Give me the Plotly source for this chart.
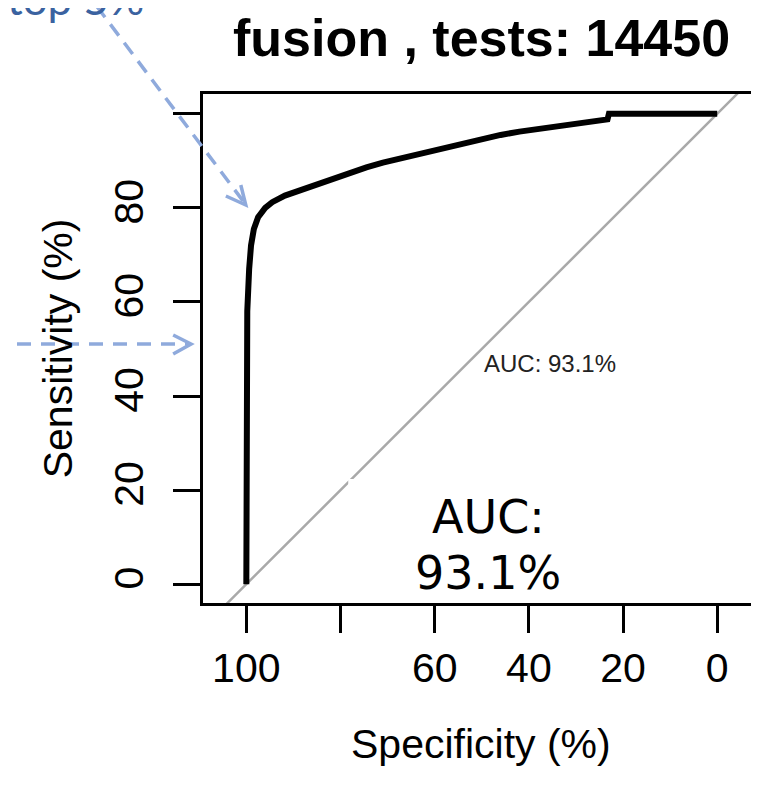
import plotly.graph_objects as go

# ---- data ----
specificity = [100, 99.9, 99.8, 99.4, 99.0, 98.4, 97.5, 96.0, 94.5, 91.8, 88.5, 85.0, 81.0,
               77.5, 74.5, 71.0, 68.0, 64.5, 61.5, 57.5, 53.5, 50.0, 46.0, 42.0, 38.0,
               34.0, 30.0, 26.5, 23.3, 23.0, 0]
sensitivity = [0, 40, 58, 67, 72, 75.5, 78, 80, 81.2, 82.6, 83.8, 85.0, 86.3,
               87.6, 88.6, 89.6, 90.3, 91.2, 92.0, 92.9, 93.8, 94.6, 95.5, 96.2, 96.8,
               97.4, 98.0, 98.4, 98.8, 100, 100]
chance_spec = [110, -10]
chance_sens = [-10, 110]
x_ticks = [100, 80, 60, 40, 20, 0]
x_ticklabels = ["100", "", "60", "40", "20", "0"]
y_ticks = [0, 20, 40, 60, 80, 100]
y_ticklabels = ["0", "20", "40", "60", "80", ""]
title_text = "fusion , tests: 14450"
auc_text = "AUC: 93.1%"

W, H = 759, 788
L, R, T, B = 195, 754, 86, 595


def px(x):
    return (x - L) / (R - L)


def py(y):
    return (B - y) / (B - T)


fig = go.Figure()
fig.add_trace(go.Scatter(x=chance_spec, y=chance_sens, mode="lines",
                         line=dict(color="#A9A9A9", width=2.5), hoverinfo="skip"))
fig.add_trace(go.Scatter(x=specificity, y=sensitivity, mode="lines",
                         line=dict(color="black", width=6), hoverinfo="skip"))

axis_font = dict(family="Liberation Sans, Arial, sans-serif", size=41, color="black")
fig.update_xaxes(range=[109.2, -8.87], tickmode="array", tickvals=x_ticks, ticktext=x_ticklabels,
                 ticks="outside", ticklen=27, tickwidth=3, tickcolor="black",
                 showline=True, mirror=True, linecolor="black", linewidth=3,
                 showgrid=False, zeroline=False, tickfont=axis_font)
fig.update_yaxes(range=[-4, 104.2], tickmode="array", tickvals=y_ticks, ticktext=y_ticklabels,
                 ticks="outside", ticklen=27, tickwidth=3, tickcolor="black", tickangle=-90,
                 ticklabelstandoff=14,
                 showline=True, mirror=True, linecolor="black", linewidth=3,
                 showgrid=False, zeroline=False, tickfont=axis_font)

ann = []
ann.append(dict(text=title_text, x=px(474.5), y=py(30), xref="paper", yref="paper",
                xanchor="center", yanchor="middle", showarrow=False,
                font=dict(family="Liberation Sans, Arial, sans-serif", size=52, color="black",
                          weight="bold")))
ann.append(dict(text="Specificity (%)", x=px(474.5), y=py(736), xref="paper", yref="paper",
                xanchor="center", yanchor="middle", showarrow=False, font=axis_font))
ann.append(dict(text="Sensitivity (%)", x=px(49), y=py(340.5), xref="paper", yref="paper",
                xanchor="center", yanchor="middle", showarrow=False, textangle=-90, font=axis_font))
ann.append(dict(text=auc_text, x=50, y=py(355), xref="x", yref="paper", xanchor="left", yanchor="middle",
                showarrow=False,
                font=dict(family="Liberation Sans, Arial, sans-serif", size=24, color="#222222")))
ann.append(dict(text="AUC:", x=px(482), y=py(509.5), xref="paper", yref="paper",
                xanchor="center", yanchor="middle", showarrow=False,
                font=dict(family="DejaVu Sans", size=46, color="black")))
ann.append(dict(text="93.1%", x=px(482), y=py(564.5), xref="paper", yref="paper",
                xanchor="center", yanchor="middle", showarrow=False,
                font=dict(family="DejaVu Sans", size=46, color="black")))
ann.append(dict(text="top 5%", x=px(-4), y=py(18), xref="paper", yref="paper",
                xanchor="left", yanchor="bottom", showarrow=False,
                font=dict(family="Lato, sans-serif", size=44, color="#3A62A0")))

arrow_col = "#8FAADC"
shapes = []
# diagonal dashed arrow
shapes.append(dict(type="line", xref="paper", yref="paper", x0=px(88), y0=py(-2), x1=px(236), y1=py(194),
                   line=dict(color=arrow_col, width=3.5, dash="14px,9px")))
shapes.append(dict(type="path", xref="paper", yref="paper",
                   path=f"M {px(218)} {py(188)} L {px(238)} {py(197)} L {px(233)} {py(177)}",
                   line=dict(color=arrow_col, width=3.5)))
# horizontal dashed arrow
shapes.append(dict(type="line", xref="paper", yref="paper", x0=px(8), y0=py(336), x1=px(181), y1=py(336),
                   line=dict(color=arrow_col, width=3.5, dash="14px,10px")))
shapes.append(dict(type="path", xref="paper", yref="paper",
                   path=f"M {px(165)} {py(327)} L {px(183)} {py(336)} L {px(165)} {py(346)}",
                   line=dict(color=arrow_col, width=3.5)))
# small white patch (corner of overlay text box)
shapes.append(dict(type="rect", xref="paper", yref="paper", x0=px(341), y0=py(478), x1=px(352), y1=py(471),
                   fillcolor="white", line=dict(width=0), layer="above"))

fig.update_layout(width=W, height=H, margin=dict(l=L, r=W - R, t=T, b=H - B, pad=0),
                  paper_bgcolor="white", plot_bgcolor="white", showlegend=False,
                  annotations=ann, shapes=shapes)

fig.write_html("out.html")
